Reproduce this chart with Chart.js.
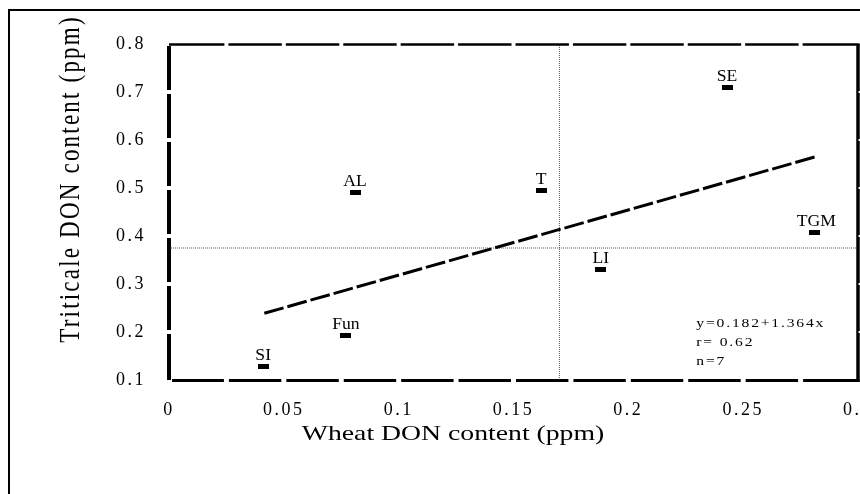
<!DOCTYPE html>
<html>
<head>
<meta charset="utf-8">
<script src="https://cdn.jsdelivr.net/npm/chart.js@4.4.1/dist/chart.umd.min.js"></script>
<style>
    html, body { margin: 0; padding: 0; background: #fff; width: 860px; height: 494px; overflow: hidden; }
    #frame { position: absolute; left: 8px; top: 9px; width: 1000px; height: 1000px; border: 2px solid #000; }
    #wrap { position: absolute; left: 0; top: 0; width: 900px; height: 540px; }
</style>
</head>
<body>
<div id="frame"></div>
<div id="wrap"><canvas id="donChart" width="900" height="540"></canvas></div>
<script>
// sites and DON readings (ppm)
const siteLabels = ['SI', 'Fun', 'AL', 'T', 'LI', 'SE', 'TGM'];
const wheatDon = [0.041, 0.077, 0.081, 0.162, 0.188, 0.243, 0.281];
const triticaleDon = [0.128, 0.192, 0.490, 0.494, 0.331, 0.710, 0.408];

// fitted line end points, and the two mean lines
const fitX = [0.0415, 0.2815];
const fitY = [0.239, 0.565];
const meanWheat = 0.170;
const meanTriticale = 0.375;

const xTickValues = [0, 0.05, 0.1, 0.15, 0.2, 0.25, 0.3];
const yTickValues = [0.1, 0.2, 0.3, 0.4, 0.5, 0.6, 0.7, 0.8];
const statLines = ['y=0.182+1.364x', 'r= 0.62', 'n=7'];

const SERIF = '"Liberation Serif", "Times New Roman", serif';

// little flat black marker like the original
const marker = document.createElement('canvas');
marker.width = 11;
marker.height = 5;
marker.getContext('2d').fillRect(0, 0, 11, 5);

const points = wheatDon.map((x, i) => ({ x, y: triticaleDon[i] }));

function stretchText(ctx, text, x, y, sx, spacing) {
    ctx.save();
    ctx.translate(x, y);
    ctx.scale(sx, 1);
    ctx.letterSpacing = spacing + 'px';
    ctx.fillText(text, 0, 0);
    ctx.restore();
}

const framePlugin = {
    id: 'framePlugin',
    beforeDraw(chart) {
        chart.ctx.letterSpacing = '2.5px';
    },
    afterDatasetsDraw(chart) {
        const ctx = chart.ctx;
        const { left, right, top, bottom } = chart.chartArea;
        const xs = chart.scales.x;
        const ys = chart.scales.y;

        ctx.save();
        ctx.letterSpacing = '0px';
        ctx.strokeStyle = '#000';
        ctx.lineCap = 'butt';

        const seg = (w, x1, y1, x2, y2) => {
            ctx.lineWidth = w;
            ctx.beginPath();
            ctx.moveTo(x1, y1);
            ctx.lineTo(x2, y2);
            ctx.stroke();
        };
        seg(4, left, top + 2, left, bottom);
        seg(3, left + 3, bottom + 0.5, right + 1.5, bottom + 0.5);
        seg(2.5, left, top + 0.5, right + 1.5, top + 0.5);
        seg(3.5, right, top, right, bottom + 2);

        // small white breaks at the tick places
        ctx.fillStyle = '#fff';
        for (let v = 0.025; v < 0.3; v += 0.025) {
            const px = xs.getPixelForValue(v);
            ctx.fillRect(px - 2.5, bottom - 2, 5, 5);
            ctx.fillRect(px - 2, top - 1.5, 4, 4);
        }
        yTickValues.slice(1, -1).forEach(v => {
            const py = ys.getPixelForValue(v);
            ctx.fillRect(left - 3, py - 2, 6, 4);
            ctx.fillRect(right + 0.5, py - 1, 2, 2);
        });

        // site labels
        ctx.fillStyle = '#000';
        ctx.font = '16px ' + SERIF;
        ctx.textAlign = 'center';
        ctx.textBaseline = 'alphabetic';
        points.forEach((p, i) => {
            const px = xs.getPixelForValue(p.x);
            const py = ys.getPixelForValue(p.y);
            stretchText(ctx, siteLabels[i], px + (siteLabels[i] === 'TGM' ? 2 : 0), py - 6.5, 1.1, 0);
        });

        // regression statistics
        ctx.font = '12px ' + SERIF;
        ctx.textAlign = 'left';
        const sx = xs.getPixelForValue(0.2296);
        statLines.forEach((t, i) => {
            stretchText(ctx, t, sx, ys.getPixelForValue(0.2104) + i * 19, 1.3, 1.4);
        });

        // axis titles
        ctx.font = '21px ' + SERIF;
        ctx.textAlign = 'center';
        stretchText(ctx, 'Wheat DON content (ppm)', left + 284, bottom + 60, 1.32, 0);

        ctx.save();
        ctx.translate(left - 90, top + 135);
        ctx.rotate(-Math.PI / 2);
        ctx.scale(1, 1.3);
        ctx.font = '23px ' + SERIF;
        ctx.textAlign = 'center';
        ctx.letterSpacing = '2.2px';
        ctx.fillText('Triticale DON content (ppm)', 0, 0);
        ctx.restore();

        ctx.restore();
    }
};

const tickFont = { family: SERIF, size: 18 };
const plainTick = value => String(value);

new Chart(document.getElementById('donChart'), {
    data: {
        datasets: [
            {
                type: 'scatter',
                data: points,
                pointStyle: marker,
                pointRadius: 6
            },
            {
                type: 'line',
                data: fitX.map((x, i) => ({ x, y: fitY[i] })),
                borderColor: '#000',
                borderWidth: 3,
                borderDash: [20, 4],
                pointRadius: 0,
                fill: false
            },
            {
                type: 'line',
                data: [{ x: meanWheat, y: 0.1 }, { x: meanWheat, y: 0.8 }],
                borderColor: '#555',
                borderWidth: 1,
                borderDash: [1, 1],
                pointRadius: 0
            },
            {
                type: 'line',
                data: [{ x: 0, y: meanTriticale }, { x: 0.3, y: meanTriticale }],
                borderColor: '#555',
                borderWidth: 1,
                borderDash: [1, 1],
                pointRadius: 0
            }
        ]
    },
    options: {
        responsive: false,
        animation: false,
        devicePixelRatio: 1,
        layout: { padding: { left: 0, top: 44, right: 42, bottom: 60 } },
        plugins: { legend: { display: false }, tooltip: { enabled: false } },
        scales: {
            x: {
                type: 'linear',
                min: 0,
                max: 0.3,
                grid: { display: false },
                border: { display: false },
                ticks: { color: '#000', font: tickFont, padding: 11, callback: plainTick },
                afterBuildTicks(scale) { scale.ticks = xTickValues.map(value => ({ value })); },
                afterFit(scale) { scale.height = 100; }
            },
            y: {
                type: 'linear',
                min: 0.1,
                max: 0.8,
                grid: { display: false },
                border: { display: false },
                ticks: { color: '#000', font: tickFont, padding: 15, callback: plainTick },
                afterBuildTicks(scale) { scale.ticks = yTickValues.map(value => ({ value })); },
                afterFit(scale) { scale.width = 169; }
            }
        }
    },
    plugins: [framePlugin]
});
</script>
</body>
</html>
